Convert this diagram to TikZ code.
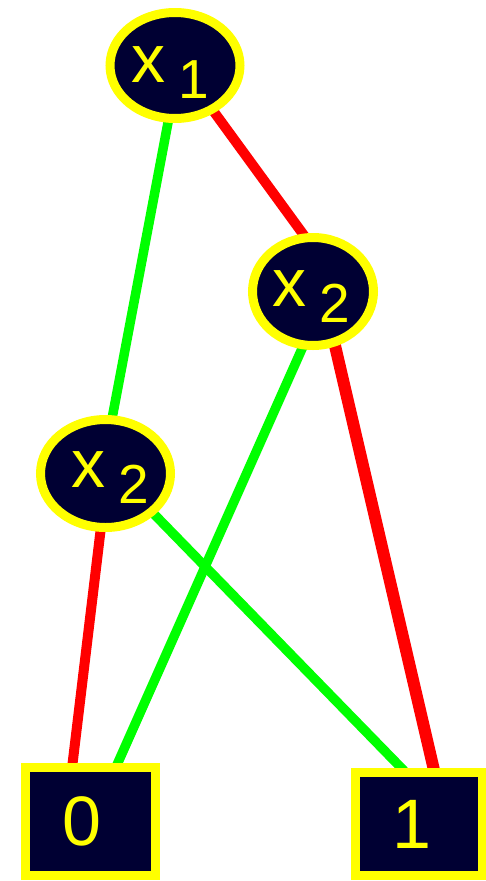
\documentclass[tikz,border=0pt]{standalone}
\usepackage{fontspec}
\setmainfont{Liberation Sans}
\usetikzlibrary{shapes.geometric,backgrounds}

\definecolor{bddnavy}{HTML}{000033}
\definecolor{bddyellow}{HTML}{FFFF00}
\definecolor{lowgreen}{HTML}{00FF00}
\definecolor{highred}{HTML}{FF0000}

% variable label: x with a lowered index; #1/#3 nudge the text sideways
\newcommand{\bddvar}[3]{\hspace*{#1}x\hspace{13pt}\raisebox{-16pt}{\fontsize{55}{64}\selectfont #2}\hspace*{#3}}

\begin{document}
\begin{tikzpicture}[x=1pt,y=-1pt,
  varnode/.style={ellipse, draw=bddyellow, fill=bddnavy, line width=9pt,
    inner sep=0pt, text=bddyellow, font=\fontsize{68}{80}\selectfont, text depth=16pt},
  sinknode/.style={rectangle, draw=bddyellow, fill=bddnavy, line width=9pt,
    inner sep=0pt, text=bddyellow, font=\fontsize{70}{84}\selectfont},
  lowedge/.style={draw=lowgreen, line width=9.5pt, shorten <=-4pt, shorten >=-4pt},
  highedge/.style={draw=highred, line width=10pt, shorten <=-4pt, shorten >=-4pt}]

  \useasboundingbox (0,0) rectangle (486,881);

  % decision nodes
  \node[varnode, minimum width=130pt, minimum height=106pt, text height=49pt]
    (x1) at (175,65.5) {\bddvar{-10pt}{1}{0pt}};
  \node[varnode, minimum width=121pt, minimum height=108pt, text height=45pt]
    (x2r) at (313,291.5) {\bddvar{-4pt}{2}{0pt}};
  \node[varnode, minimum width=130pt, minimum height=108pt, text height=43pt]
    (x2l) at (105.5,473.5) {\bddvar{0pt}{2}{-9pt}};

  % terminal nodes
  \node[sinknode, minimum width=130pt, minimum height=108pt]
    (s0) at (90.5,821.5) {\hspace*{-17.6pt}0};
  \node[sinknode, minimum width=127pt, minimum height=103pt]
    (s1) at (418.5,824) {\hspace*{-13pt}1};

  \begin{pgfonlayer}{background}
    % white page
    \fill[white] (0,0) rectangle (486,881);
    % low (green) and high (red) branches, tucked under the node rims
    \draw[lowedge] (x1.263) -- (x2l.83);
    \draw[highedge] (x1.310) -- (x2r.100);
    \draw[lowedge] (x2r.259) -- (s0.65);
    \draw[highedge, line width=12pt] (x2r.292) -- (s1.75);
    \draw[highedge] (x2l.265) -- (s0.107);
    \draw[lowedge] (x2l.320) -- (s1.107);
  \end{pgfonlayer}
\end{tikzpicture}
\end{document}
